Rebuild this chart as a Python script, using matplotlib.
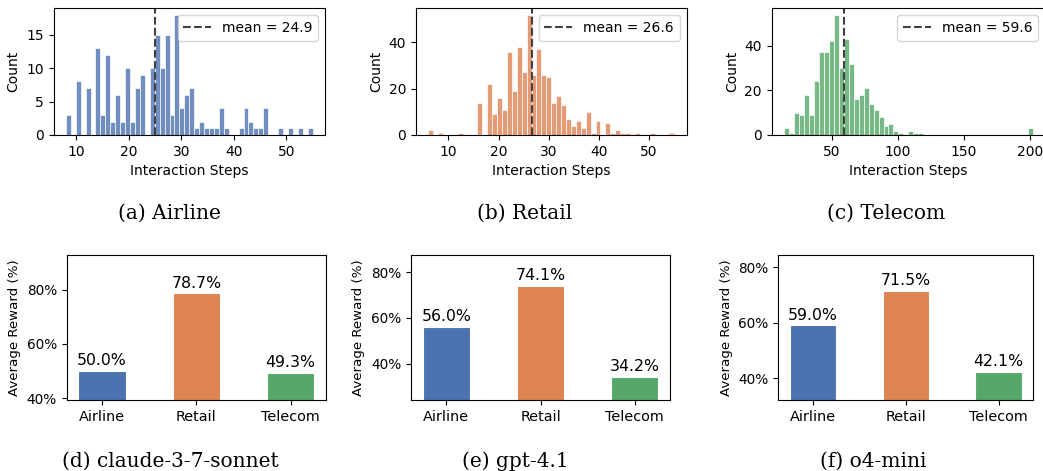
import numpy as np
import matplotlib.pyplot as plt
from matplotlib.ticker import MultipleLocator, FuncFormatter

# seaborn "deep" colours
blue, orange, green = '#4C72B0', '#DD8452', '#55A868'
colors = [blue, orange, green]

domains = ['Airline', 'Retail', 'Telecom']

# interaction steps per simulation (value, number of runs)
airline_steps = [8, 10, 12, 14, 15, 16, 17, 18, 19, 20, 21, 22, 23, 24, 25, 26, 27, 28, 29,
                 30, 31, 32, 33, 34, 35, 36, 37, 38, 39, 41, 42, 43, 44, 45, 46, 49, 51, 53, 55]
airline_counts = [3, 8, 7, 13, 3, 12, 2, 6, 2, 10, 2, 7, 9, 10, 15, 10, 15, 3, 18,
                  4, 6, 7, 1, 2, 1, 1, 1, 4, 1, 1, 4, 2, 1, 1, 4, 1, 1, 1, 1]

retail_steps = [6, 8, 12, 16, 18, 19, 20, 21, 22, 23, 24, 25, 26, 27, 28, 29, 30, 31, 32,
                33, 34, 35, 36, 37, 38, 39, 40, 42, 43, 44, 45, 46, 48, 51, 55]
retail_counts = [2, 1, 1, 14, 22, 9, 16, 11, 36, 19, 38, 27, 52, 26, 37, 26, 25, 14, 17,
                 13, 7, 4, 6, 3, 10, 1, 6, 5, 1, 2, 1, 1, 1, 1, 1]

telecom_steps = [14, 20, 23, 27, 31, 35, 38, 42, 46, 50, 53, 57, 61, 65, 69, 72, 76, 80,
                 84, 87, 91, 95, 99, 102, 110, 114, 117, 202]
telecom_counts = [3, 1, 10, 9, 18, 9, 24, 37, 37, 42, 54, 30, 43, 32, 16, 18, 21, 14,
                  11, 8, 4, 5, 2, 1, 2, 1, 1, 3]

mean_steps = [24.9, 26.6, 59.6]

# average reward per model (%)
models = ['claude-3-7-sonnet', 'gpt-4.1', 'o4-mini']
claude_reward = [50.0, 78.7, 49.3]
gpt41_reward = [56.0, 74.1, 34.2]
o4mini_reward = [59.0, 71.5, 42.1]

W, H = 1043, 471
fig = plt.figure(figsize=(W / 100, H / 100), dpi=100)


def box(l, t, r, b):
    return [l / W, 1 - b / H, (r - l) / W, (b - t) / H]


top_boxes = [box(53.5, 8.5, 325, 135), box(416, 8.5, 686.5, 135), box(771.7, 8.5, 1045, 135)]
bot_boxes = [box(66.7, 255, 326, 400), box(411, 255, 670, 400), box(778.3, 255, 1033.3, 400)]

steps = [(airline_steps, airline_counts), (retail_steps, retail_counts), (telecom_steps, telecom_counts)]
for i, (s, c) in enumerate(steps):
    ax = fig.add_axes(top_boxes[i])
    ax.hist(s, bins=50, weights=c, color=colors[i], alpha=0.8, edgecolor='white', linewidth=0.6)
    ax.axvline(mean_steps[i], color='0.25', linestyle='--', linewidth=1.5,
               label=f'mean = {mean_steps[i]:.1f}')
    ax.set_xlabel('Interaction Steps', fontsize=10)
    ax.set_ylabel('Count', fontsize=10)
    ax.tick_params(labelsize=10)
    ax.legend(loc='upper right', fontsize=10)

rewards = [claude_reward, gpt41_reward, o4mini_reward]
x = np.arange(len(domains))
for i, r in enumerate(rewards):
    ax = fig.add_axes(bot_boxes[i])
    ax.bar(x, r, width=0.5, color=colors, edgecolor='white', linewidth=0.8)
    for xi, v in zip(x, r):
        ax.annotate(f'{v:.1f}%', (xi, v), xytext=(0, 2), textcoords='offset points',
                    ha='center', va='bottom', fontsize=11.3)
    ax.set_ylim(min(r) - 10, max(r) * 1.18)
    ax.yaxis.set_major_locator(MultipleLocator(20))
    ax.yaxis.set_major_formatter(FuncFormatter(lambda v, p: f'{v:.0f}%'))
    ax.set_xticks(x)
    ax.set_xticklabels(domains, fontsize=10.4)
    ax.tick_params(axis='y', labelsize=9.8)
    ax.set_ylabel('Average Reward (%)', fontsize=9.6)

captions_top = ['(a) Airline', '(b) Retail', '(c) Telecom']
captions_bot = ['(d) ' + models[0], '(e) ' + models[1], '(f) ' + models[2]]
top_x = [169, 525, 886]
bot_x = [170, 515, 873]
for t, cx in zip(captions_top, top_x):
    fig.text(cx / W, 1 - 219 / H, t, ha='center', va='baseline', fontsize=14.5, family='DejaVu Serif')
for t, cx in zip(captions_bot, bot_x):
    fig.text(cx / W, 1 - 467 / H, t, ha='center', va='baseline', fontsize=14.5, family='DejaVu Serif')

fig.savefig('out.png', dpi=100)
